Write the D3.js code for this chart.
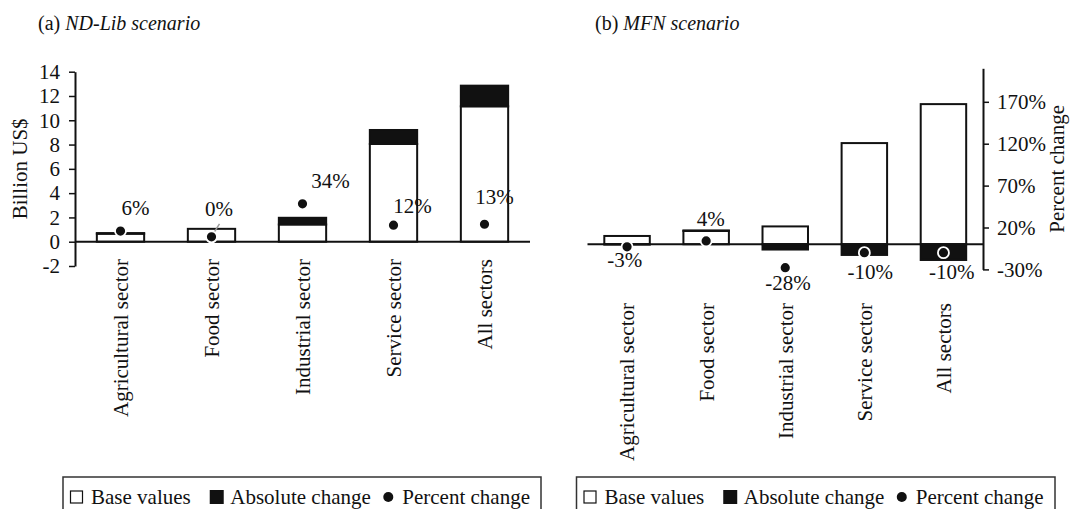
<!DOCTYPE html>
<html>
<head>
<meta charset="utf-8">
<script src="https://cdn.jsdelivr.net/npm/d3@7"></script>
<style>
  html, body { margin: 0; padding: 0; background: #fff; }
  svg { display: block; font-family: "Liberation Serif", "Times New Roman", serif; }
  text { font-family: "Liberation Serif", "Times New Roman", serif; fill: #111; }
</style>
</head>
<body>
<svg id="chart" width="1072" height="509"></svg>
<script>
// ---------------- DATA ----------------
const categories = ["Agricultural sector", "Food sector", "Industrial sector", "Service sector", "All sectors"];
const baseValues = [0.66, 1.06, 1.42, 8.05, 11.15];          // Billion US$
const ndlibAbsChange = [0.05, 0.0, 0.55, 1.15, 1.7];         // Billion US$
const ndlibPctChange = [6, 0, 34, 12, 13];                   // %
const mfnAbsChange = [-0.02, 0.04, -0.42, -0.85, -1.25];     // Billion US$
const mfnPctChange = [-3, 4, -28, -10, -10];                 // %
const valueTicks = [-2, 0, 2, 4, 6, 8, 10, 12, 14];
const pctTicks = [-30, 20, 70, 120, 170];
const legendLabels = ["Base values", "Absolute change", "Percent change"];

// ---------------- DRAW ----------------
const svg = d3.select("#chart");
const FS = 21;
const FONT = '"Liberation Serif", "Times New Roman", serif';
const ink = "#111";

function title(x, y, plain, italic) {
  const t = svg.append("text").attr("x", x).attr("y", y).style("font-size", "20px");
  t.append("tspan").text(plain);
  t.append("tspan").style("font-style", "italic").text(italic);
}

function panel(opts) {
  const g = svg.append("g");
  const x = d3.scaleBand().domain(categories).range(opts.xRange)
    .paddingInner(opts.padIn).paddingOuter(opts.padOut);
  const y = d3.scaleLinear().domain([-2, 14]).range(opts.yRange);
  const p = d3.scaleLinear().domain(opts.pctDomain).range(opts.yRange);

  const rows = categories.map((c, i) => ({
    c, base: baseValues[i], abs: opts.abs[i], pct: opts.pct[i], i
  }));

  // base bars (white)
  g.selectAll("rect.base").data(rows).join("rect")
    .attr("x", d => x(d.c)).attr("width", x.bandwidth())
    .attr("y", d => y(d.base)).attr("height", d => y(0) - y(d.base))
    .attr("fill", "#fff").attr("stroke", ink).attr("stroke-width", 2);

  // absolute change (black): stacked on base if positive, below zero if negative
  g.selectAll("rect.abs").data(rows.filter(d => d.abs !== 0)).join("rect")
    .attr("x", d => x(d.c)).attr("width", x.bandwidth())
    .attr("y", d => d.abs > 0 ? y(d.base + d.abs) : y(0))
    .attr("height", d => d.abs > 0 ? y(d.base) - y(d.base + d.abs) : y(d.abs) - y(0))
    .attr("fill", ink).attr("stroke", ink).attr("stroke-width", 2);

  // zero line
  g.append("line")
    .attr("x1", opts.zeroLine[0]).attr("x2", opts.zeroLine[1])
    .attr("y1", y(0)).attr("y2", y(0))
    .attr("stroke", ink).attr("stroke-width", 2);

  // leader lines
  (opts.leaders || []).forEach(([i, dx1, dy1, dx2, dy2]) => {
    const cx = x(categories[i]) + x.bandwidth() / 2, cy = p(opts.pct[i]);
    g.append("line").attr("x1", cx + dx1).attr("y1", cy + dy1)
      .attr("x2", cx + dx2).attr("y2", cy + dy2)
      .attr("stroke", "#9a9a9a").attr("stroke-width", 1.5);
  });

  // percent change dots
  g.selectAll("circle.pct").data(rows).join("circle")
    .attr("cx", d => x(d.c) + x.bandwidth() / 2)
    .attr("cy", d => p(d.pct))
    .attr("r", 5.5)
    .attr("fill", ink).attr("stroke", "#fff").attr("stroke-width", 1.8);

  // percent labels
  g.selectAll("text.pctlab").data(rows).join("text")
    .attr("x", d => x(d.c) + x.bandwidth() / 2 + opts.nudge[d.i][0])
    .attr("y", d => p(d.pct) + opts.nudge[d.i][1])
    .attr("text-anchor", "middle")
    .style("font-size", FS + "px")
    .text(d => d.pct + "%");

  // category labels (rotated)
  g.selectAll("text.cat").data(rows).join("text")
    .attr("transform", d => `translate(${x(d.c) + x.bandwidth() / 2},${opts.catY}) rotate(-90)`)
    .attr("text-anchor", "end").attr("dy", "0.35em")
    .style("font-size", FS + "px")
    .text(d => d.c);

  return { x, y, p, g };
}

function styleAxis(gAx) {
  gAx.attr("font-family", FONT).attr("font-size", FS);
  gAx.select(".domain").attr("stroke", ink).attr("stroke-width", 2);
  gAx.selectAll(".tick line").attr("stroke", ink).attr("stroke-width", 1.5);
  gAx.selectAll(".tick text").style("font-size", FS + "px").style("font-family", FONT).attr("fill", ink);
}

// ----- Panel (a) -----
title(38, 30, "(a) ", "ND-Lib scenario");
const A = panel({
  xRange: [75, 530], padIn: 0.48, padOut: 0.24,
  yRange: [266, 71.7], pctDomain: [-30, 170],
  abs: ndlibAbsChange, pct: ndlibPctChange,
  zeroLine: [75, 530],
  nudge: [[15, -16], [7.5, -21], [28, -15.5], [19, -12.6], [10, -20]],
  leaders: [[1, 1, -2, 8, -13]],
  catY: 259
});
const axL = d3.axisLeft(A.y).tickValues(valueTicks).tickSize(6).tickSizeOuter(0).tickPadding(9)
  .tickFormat(d => String(d));
const gL = svg.append("g").attr("transform", "translate(75,0)").call(axL);
styleAxis(gL);
svg.append("text")
  .attr("transform", `translate(20,${(266 + 71.7) / 2}) rotate(-90)`)
  .attr("text-anchor", "middle").attr("dy", "0.35em")
  .style("font-size", FS + "px").text("Billion US$");

// ----- Panel (b) -----
title(595, 30, "(b) ", "MFN scenario");
const B = panel({
  xRange: [587.5, 983], padIn: 0.425, padOut: 0.2125,
  yRange: [269.4, 68.3], pctDomain: [-30, 210],
  abs: mfnAbsChange, pct: mfnPctChange,
  zeroLine: [587.5, 983],
  nudge: [[-2.4, 20], [4.6, -15], [2.7, 22], [6, 26], [8.3, 26]],
  leaders: [],
  catY: 303
});
const axR = d3.axisRight(B.p).tickValues(pctTicks).tickSize(6).tickSizeOuter(0).tickPadding(8)
  .tickFormat(d => d + "%");
const gR = svg.append("g").attr("transform", "translate(983,0)").call(axR);
styleAxis(gR);
svg.append("text")
  .attr("transform", `translate(1057,${(269.4 + 68.3) / 2}) rotate(-90)`)
  .attr("text-anchor", "middle").attr("dy", "0.35em")
  .style("font-size", FS + "px").text("Percent change");

// ----- Legends -----
function legend(x0, x1, top) {
  const g = svg.append("g");
  g.append("rect").attr("x", x0).attr("y", top).attr("width", x1 - x0).attr("height", 50)
    .attr("fill", "#fff").attr("stroke", "#333").attr("stroke-width", 1.5);
  const base = 504;
  let cx = x0 + 7.5;
  legendLabels.forEach((lab, i) => {
    if (i === 0) {
      g.append("rect").attr("x", cx).attr("y", base - 13).attr("width", 12).attr("height", 12)
        .attr("fill", "#fff").attr("stroke", ink).attr("stroke-width", 1.2);
      cx += 20.5;
    } else if (i === 1) {
      g.append("rect").attr("x", cx).attr("y", base - 14).attr("width", 14).attr("height", 14)
        .attr("fill", ink);
      cx += 20.5;
    } else {
      g.append("circle").attr("cx", cx + 5).attr("cy", base - 7).attr("r", 5).attr("fill", ink);
      cx += 19;
    }
    const t = g.append("text").attr("x", cx).attr("y", base).style("font-size", FS + "px").text(lab);
    cx += t.node().getComputedTextLength() + (i === 0 ? 19 : 12.5);
  });
}
legend(63, 541, 477);
legend(576.5, 1055, 477);
</script>
</body>
</html>
